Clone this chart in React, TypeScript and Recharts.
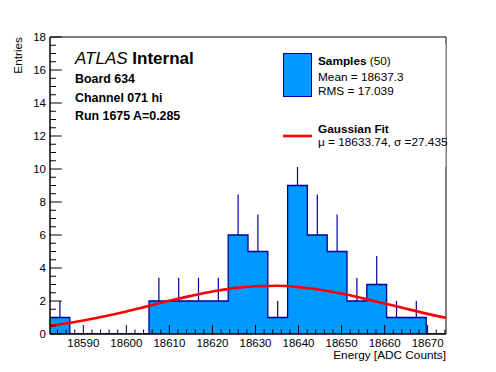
import React from 'react';
import { ComposedChart, XAxis, YAxis, Area, Line, ReferenceLine, ReferenceArea } from 'recharts';

const FONT = "'Liberation Sans', Arial, Helvetica, sans-serif";

const X_MIN = 18582.26;
const X_MAX = 18674.26;
const Y_MIN = 0;
const Y_MAX = 18;

// histogram bin low edges (20 bins) plus final upper edge
const binEdges = [
  18582.26, 18586.86, 18591.46, 18596.06, 18600.66, 18605.26, 18609.86, 18614.46, 18619.06, 18623.66,
  18628.26, 18632.86, 18637.46, 18642.06, 18646.66, 18651.26, 18655.86, 18660.46, 18665.06, 18669.66,
  18674.26,
];
const binCounts = [1, 0, 0, 0, 0, 2, 2, 2, 2, 6, 5, 1, 9, 6, 5, 2, 3, 1, 1, 0];
const binErrors = [1, 0, 0, 0, 0, 1.41, 1.41, 1.41, 1.41, 2.45, 2.24, 1, 3, 2.45, 2.24, 1.41, 1.73, 1, 1, 0];

// gaussian fit curve
const fitX = [
  18582.26, 18585, 18590, 18595, 18600, 18605, 18610, 18615, 18620, 18625, 18630,
  18635, 18640, 18645, 18650, 18655, 18660, 18665, 18670, 18674.26,
];
const fitY = [
  0.5, 0.6, 0.82, 1.08, 1.37, 1.69, 2.01, 2.31, 2.58, 2.78, 2.89,
  2.92, 2.84, 2.68, 2.45, 2.16, 1.85, 1.53, 1.22, 0.98,
];

const xTickLabels = [18590, 18600, 18610, 18620, 18630, 18640, 18650, 18660, 18670];
const yTickLabels = [0, 2, 4, 6, 8, 10, 12, 14, 16, 18];

const X_MINOR_STEP = 2;
const Y_MINOR_STEP = 0.5;

const histData = binEdges.map((x, i) => ({ x, count: i < binCounts.length ? binCounts[i] : 0 }));
const fitData = fitX.map((x, i) => ({ x, fit: fitY[i] }));
const errData = binCounts
  .map((c, i) => ({ x: (binEdges[i] + binEdges[i + 1]) / 2, lo: c, hi: c + binErrors[i] }))
  .filter((d) => d.hi > d.lo);

const xMinor: number[] = [];
for (let v = 18584; v <= X_MAX; v += X_MINOR_STEP) xMinor.push(v);
const yMinor: number[] = [];
for (let v = Y_MIN; v <= Y_MAX + 1e-9; v += Y_MINOR_STEP) yMinor.push(v);

// tick lengths in data units (x ticks vertical, y ticks horizontal)
const X_TICK_MAJOR = 0.55;
const X_TICK_MINOR = 0.27;
const Y_TICK_MAJOR = 2.75;
const Y_TICK_MINOR = 1.38;

export default function App() {
  const tickStyle = { fontSize: 11.5, fill: '#000', fontFamily: FONT };
  return (
    <div style={{ position: 'absolute', left: 0, top: 0, width: 496, height: 372, background: '#fff' }}>
      <ComposedChart width={496} height={372} margin={{ top: 37, right: 50, bottom: 8, left: 0 }}>
        <XAxis
          type="number"
          dataKey="x"
          domain={[X_MIN, X_MAX]}
          allowDataOverflow
          ticks={xTickLabels}
          interval={0}
          tickLine={false}
          axisLine={{ stroke: '#000' }}
          tickSize={0}
          tickMargin={5}
          height={30}
          tick={tickStyle}
        />
        <YAxis
          type="number"
          domain={[Y_MIN, Y_MAX]}
          allowDataOverflow
          ticks={yTickLabels}
          interval={0}
          tickLine={false}
          axisLine={{ stroke: '#000' }}
          tickSize={0}
          tickMargin={4}
          width={50}
          tick={tickStyle}
        />
        <Area
          data={histData}
          dataKey="count"
          type="stepAfter"
          fill="#0099ff"
          fillOpacity={1}
          stroke="#000099"
          strokeWidth={1.3}
          isAnimationActive={false}
        />
        {errData.map((d, i) => (
          <ReferenceLine
            key={'e' + i}
            segment={[{ x: d.x, y: d.lo }, { x: d.x, y: d.hi }]}
            stroke="#000099"
            strokeWidth={1.2}
          />
        ))}
        <Line
          data={fitData}
          dataKey="fit"
          type="monotone"
          stroke="#ff0000"
          strokeWidth={2.6}
          dot={false}
          activeDot={false}
          isAnimationActive={false}
        />
        {xMinor.map((v, i) => (
          <ReferenceLine
            key={'xm' + i}
            segment={[{ x: v, y: 0 }, { x: v, y: xTickLabels.includes(v) ? X_TICK_MAJOR : X_TICK_MINOR }]}
            stroke="#000"
            strokeWidth={1}
          />
        ))}
        {yMinor.map((v, i) => (
          <ReferenceLine
            key={'ym' + i}
            segment={[{ x: X_MIN, y: v }, { x: X_MIN + (yTickLabels.includes(v) ? Y_TICK_MAJOR : Y_TICK_MINOR), y: v }]}
            stroke="#000"
            strokeWidth={1}
          />
        ))}
        <ReferenceArea x1={X_MIN} x2={X_MAX} y1={Y_MIN} y2={Y_MAX} fill="none" fillOpacity={0} stroke="#000" strokeWidth={1} />
      </ComposedChart>
      <svg
        width={496}
        height={372}
        style={{ position: 'absolute', left: 0, top: 0, pointerEvents: 'none' }}
        fontFamily={FONT}
      >
        <text transform="translate(22,37) rotate(-90)" textAnchor="end" fontSize={11.8} fill="#000">Entries</text>
        <text x={446} y={359} textAnchor="end" fontSize={11.8} fill="#000">Energy [ADC Counts]</text>

        <text x={75} y={64} fontSize={17} fill="#000">
          <tspan fontStyle="italic">ATLAS</tspan>
          <tspan fontWeight="bold"> Internal</tspan>
        </text>
        <text x={75} y={82.5} fontSize={12.4} fontWeight="bold" fill="#000">Board 634</text>
        <text x={75} y={101.5} fontSize={12.4} fontWeight="bold" fill="#000">Channel 071 hi</text>
        <text x={75} y={119.5} fontSize={12.4} fontWeight="bold" fill="#000">Run 1675 A=0.285</text>

        {/* legend background (white, hides marks behind it, frame stays visible) */}
        <rect x={277} y={44} width={168.5} height={123} fill="#fff" />

        <rect x={283.5} y={53.5} width={28} height={43} fill="#0099ff" stroke="#000099" strokeWidth={1} />
        <text x={318} y={65.2} fontSize={11.8} fill="#000">
          <tspan fontWeight="bold">Samples</tspan>
          <tspan> (50)</tspan>
        </text>
        <text x={318} y={81.2} fontSize={11.8} fill="#000">Mean = 18637.3</text>
        <text x={318} y={94.7} fontSize={11.8} fill="#000">RMS = 17.039</text>

        <line x1={283} x2={312} y1={136} y2={136} stroke="#ff0000" strokeWidth={2.6} />
        <text x={318} y={133} fontSize={11.8} fontWeight="bold" fill="#000">Gaussian Fit</text>
        <text x={318} y={145.5} fontSize={11.8} fill="#000">μ = 18633.74, σ =27.435</text>
      </svg>
    </div>
  );
}
